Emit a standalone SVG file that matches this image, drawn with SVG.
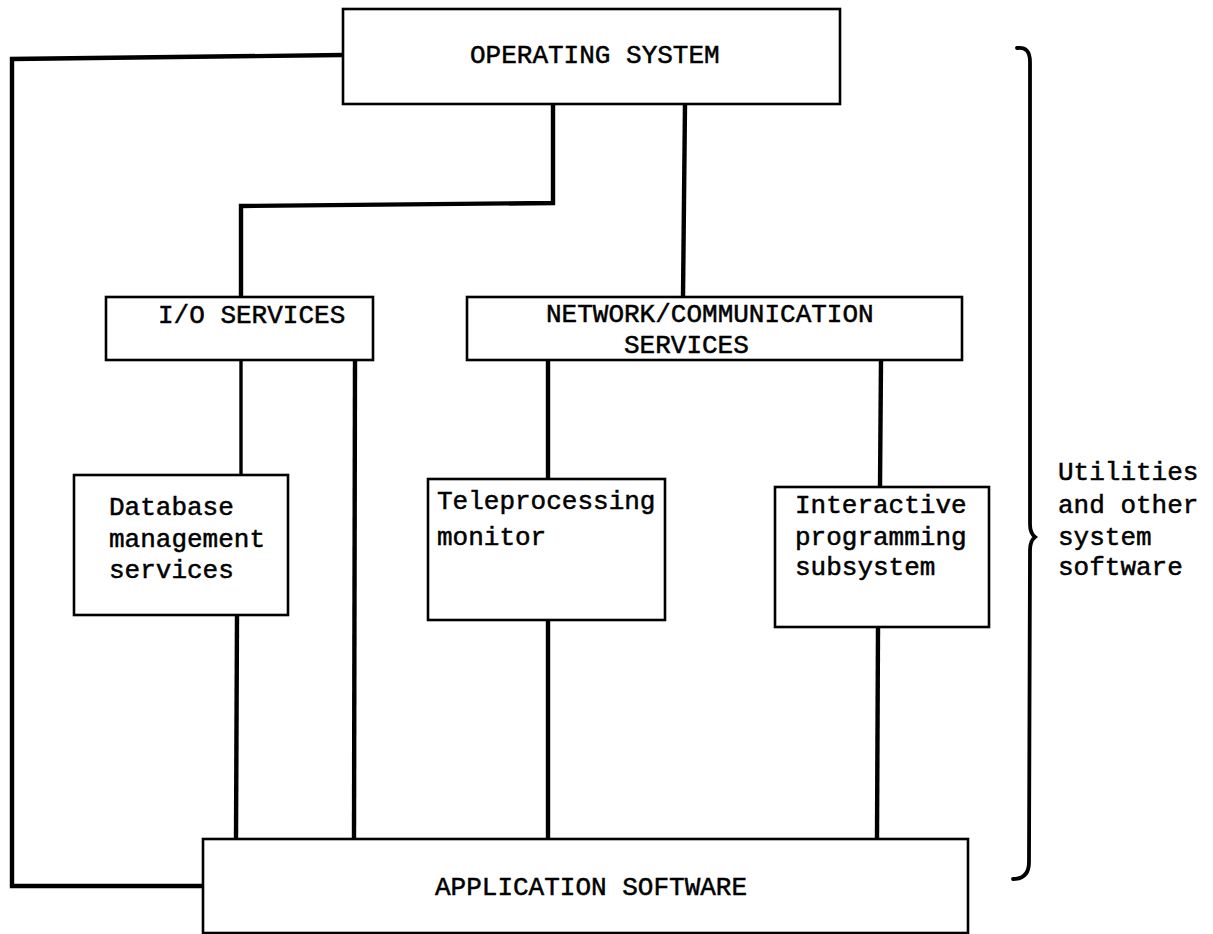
<svg xmlns="http://www.w3.org/2000/svg" width="1213" height="934" viewBox="0 0 1213 934">
  <style>
    .box { fill: #ffffff; stroke: #000000; stroke-width: 2.6; }
    .wire { fill: none; stroke: #000000; stroke-width: 4.4; stroke-linejoin: miter; }
    .thin { stroke-width: 3.4; }
    .lbl { font-family: "Liberation Mono", "DejaVu Sans Mono", monospace; font-size: 26px; fill: #000000; stroke: #000000; stroke-width: 0.5; }
    .brace { fill: none; stroke: #000000; stroke-width: 3.8; stroke-linecap: round; }
  </style>
  <rect width="1213" height="934" fill="#ffffff"/>

  <!-- links between the software layers -->
  <g id="connectors">
    <path class="wire" d="M343,55 L12,59 L12,886 L203,886"/>
    <path class="wire" d="M553,104 L553,203 L241,206 L241,297"/>
    <path class="wire" d="M685,104 L683,297"/>
    <path class="wire thin" d="M241,360 L241,475"/>
    <path class="wire" d="M355,360 L354,839"/>
    <path class="wire" d="M237,615 L236,839"/>
    <path class="wire" d="M548,360 L548,479"/>
    <path class="wire" d="M548,620 L548,839"/>
    <path class="wire" d="M881,360 L880,487"/>
    <path class="wire" d="M878,627 L877,839"/>
  </g>

  <g id="operating-system">
    <rect class="box" x="343" y="9" width="497" height="95"/>
    <text class="lbl" x="470" y="63">OPERATING SYSTEM</text>
  </g>

  <g id="io-services">
    <rect class="box" x="106" y="297" width="267" height="63"/>
    <text class="lbl" x="158" y="323">I/O SERVICES</text>
  </g>

  <g id="network-services">
    <rect class="box" x="467" y="297" width="495" height="63"/>
    <text class="lbl" x="546" y="322">NETWORK/COMMUNICATION</text>
    <text class="lbl" x="624" y="353">SERVICES</text>
  </g>

  <g id="database-management">
    <rect class="box" x="74" y="475" width="214" height="140"/>
    <text class="lbl" x="109" y="515">Database</text>
    <text class="lbl" x="109" y="547">management</text>
    <text class="lbl" x="109" y="578">services</text>
  </g>

  <g id="teleprocessing-monitor">
    <rect class="box" x="428" y="479" width="237" height="141"/>
    <text class="lbl" x="437" y="509">Teleprocessing</text>
    <text class="lbl" x="437" y="545">monitor</text>
  </g>

  <g id="interactive-programming">
    <rect class="box" x="775" y="487" width="214" height="140"/>
    <text class="lbl" x="795" y="513">Interactive</text>
    <text class="lbl" x="795" y="545">programming</text>
    <text class="lbl" x="795" y="575">subsystem</text>
  </g>

  <g id="application-software">
    <rect class="box" x="203" y="839" width="765" height="94"/>
    <text class="lbl" x="435" y="895">APPLICATION SOFTWARE</text>
  </g>

  <!-- brace grouping the system software layers -->
  <g id="system-software-brace">
    <path class="brace" d="M1017,48 Q1030,46 1030,62 L1030,524 Q1030,533 1035,537 Q1030,541 1030,550 L1029,862 Q1029,879 1013,879"/>
    <text class="lbl" x="1058" y="480">Utilities</text>
    <text class="lbl" x="1058" y="513">and other</text>
    <text class="lbl" x="1058" y="545">system</text>
    <text class="lbl" x="1058" y="575">software</text>
  </g>
</svg>
